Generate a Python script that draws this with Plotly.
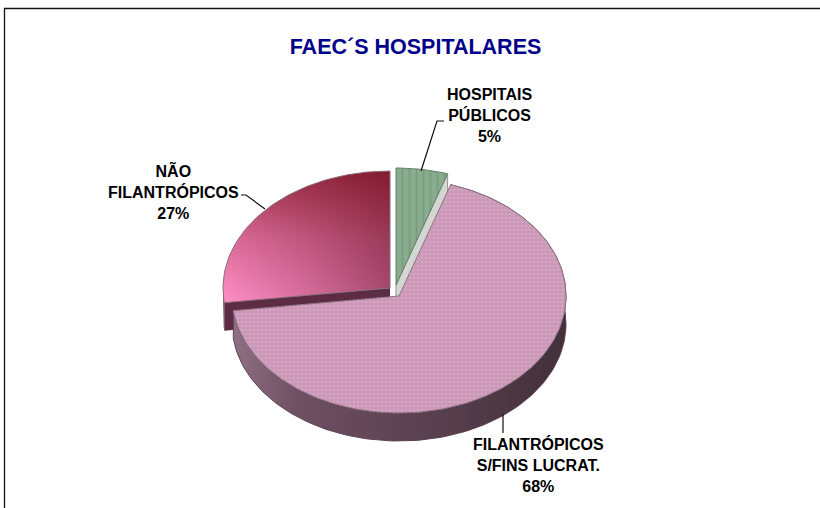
import numpy as np
import plotly.graph_objects as go

TITLE = "FAEC´S HOSPITALARES"
labels = ["HOSPITAIS<br>PÚBLICOS", "FILANTRÓPICOS<br>S/FINS LUCRAT.", "NÃO<br>FILANTRÓPICOS"]
values = [5, 68, 27]

W, H = 820, 508
CX, CY, RX, RY = 399.0, 296.0, 167.0, 117.0
DEPTH = 28 / RY
OFFSETS = [(-3 / RX, 11 / RY), (0.0, 0.0), (-9 / RX, 8 / RY)]
FONT = "Liberation Sans, Arial, sans-serif"

fractions = np.array(values) / sum(values)
edges = np.concatenate([[0], np.cumsum(fractions)]) * 2 * np.pi


def arc(a0, a1, off):
    t = np.linspace(a0, a1, max(int(abs(a1 - a0) * 40), 2))
    return off[0] + np.sin(t), off[1] + np.cos(t)


def sector(i):
    x, y = arc(edges[i], edges[i + 1], OFFSETS[i])
    return np.r_[OFFSETS[i][0], x, OFFSETS[i][0]], np.r_[OFFSETS[i][1], y, OFFSETS[i][1]]


def rim(a0, a1, off):
    x, y = arc(a0, a1, off)
    return np.r_[x, x[::-1], x[0]], np.r_[y, y[::-1] - DEPTH, y[0]]


def wall(a, off):
    ex, ey = off[0] + np.sin(a), off[1] + np.cos(a)
    return ([off[0], ex, ex, off[0], off[0]],
            [off[1], ey, ey - DEPTH, off[1] - DEPTH, off[1]])


def px(x):
    return x / W


def py(y):
    return 1 - y / H


fig = go.Figure()


def add(xy, name, line="rgba(0,0,0,0)", width=0, **kw):
    fig.add_trace(go.Scatter(x=xy[0], y=xy[1], name=name, mode="lines", fill="toself",
                             line=dict(color=line, width=width), hoverinfo="skip",
                             showlegend=False, **kw))


# Slice 3: NÃO FILANTRÓPICOS (back, offset to the upper left)
add(wall(edges[2], OFFSETS[2]), "red wall", fillcolor="#5c2c45")
add(rim(edges[2], 1.5 * np.pi, OFFSETS[2]), "red rim", fillcolor="#5c2c45")
add(sector(2), "NÃO FILANTRÓPICOS", fillgradient=dict(
    type="horizontal",
    colorscale=[[0, "#ff8fc6"], [0.5, "#d870a0"], [1, "#a84c72"]]))
add(sector(2), "red shade", line="#8a6a78", width=1, fillgradient=dict(
    type="vertical",
    colorscale=[[0, "rgba(110,0,10,0)"], [0.5, "rgba(110,0,10,0.25)"], [1, "rgba(110,0,10,0.65)"]]))

# Slice 1: HOSPITAIS PÚBLICOS
add(wall(edges[1], OFFSETS[0]), "green wall", fillcolor="#d4d6d2", line="#8f948f", width=1)
add(sector(0), "HOSPITAIS PÚBLICOS", line="#66806b", width=1,
    fillcolor="#88aa8c",
    fillpattern=dict(shape="|", bgcolor="#8aac8e", fgcolor="#668c6e", size=7, solidity=0.25))

# Slice 2: FILANTRÓPICOS S/FINS LUCRAT. (front)
add(rim(edges[1], edges[2], OFFSETS[1]), "pink rim", line="#5b4150", width=1, fillgradient=dict(
    type="horizontal",
    colorscale=[[0, "#8f7083"], [0.2, "#6d4f61"], [0.6, "#59404e"], [1, "#42303a"]]))
add(sector(1), "FILANTRÓPICOS S/FINS LUCRAT.", line="#8c7282", width=1,
    fillcolor="#cf9dbd",
    fillpattern=dict(shape=".", bgcolor="#cb98b8", fgcolor="#e6c6da", size=4, solidity=0.18))

leaders = [
    [(421, 171), (437, 121), (444, 121)],
    [(503, 414), (503, 433)],
    [(265, 209), (246, 195), (241, 195)],
]
shapes = [dict(type="path", xref="paper", yref="paper", line=dict(color="#101010", width=1.2),
               path="M" + " L".join(f"{px(a)},{py(b)}" for a, b in pts))
          for pts in leaders]
shapes.append(dict(type="path", xref="paper", yref="paper", line=dict(color="#111111", width=1.3),
                   path=f"M{px(4.5)},{py(508)} L{px(4.5)},{py(8.5)} L{px(820)},{py(8.5)}"))

label_pos = [(489.5, 84), (538, 433), (173, 159)]
annotations = [
    dict(x=px(a), y=py(b), xref="paper", yref="paper", xanchor="center", yanchor="top",
         text=f"<b>{lab}<br>{val}%</b>", showarrow=False, align="center",
         font=dict(family=FONT, size=16, color="#000000"))
    for lab, val, (a, b) in zip(labels, values, label_pos)
]

fig.update_layout(
    width=W, height=H, margin=dict(l=0, r=0, t=0, b=0),
    paper_bgcolor="white", plot_bgcolor="white", showlegend=False,
    title=dict(text=f"<b>{TITLE}</b>", x=415.5 / W, y=py(46), xanchor="center", yanchor="middle",
               font=dict(family=FONT, size=21.5, color="#00008b")),
    xaxis=dict(visible=False, range=[-CX / RX, (W - CX) / RX], fixedrange=True),
    yaxis=dict(visible=False, range=[(CY - H) / RY, CY / RY], fixedrange=True),
    shapes=shapes, annotations=annotations,
)

fig.write_html("out.html", config=dict(displayModeBar=False),
               post_script="document.body.style.margin='0';document.body.style.overflow='hidden';")
